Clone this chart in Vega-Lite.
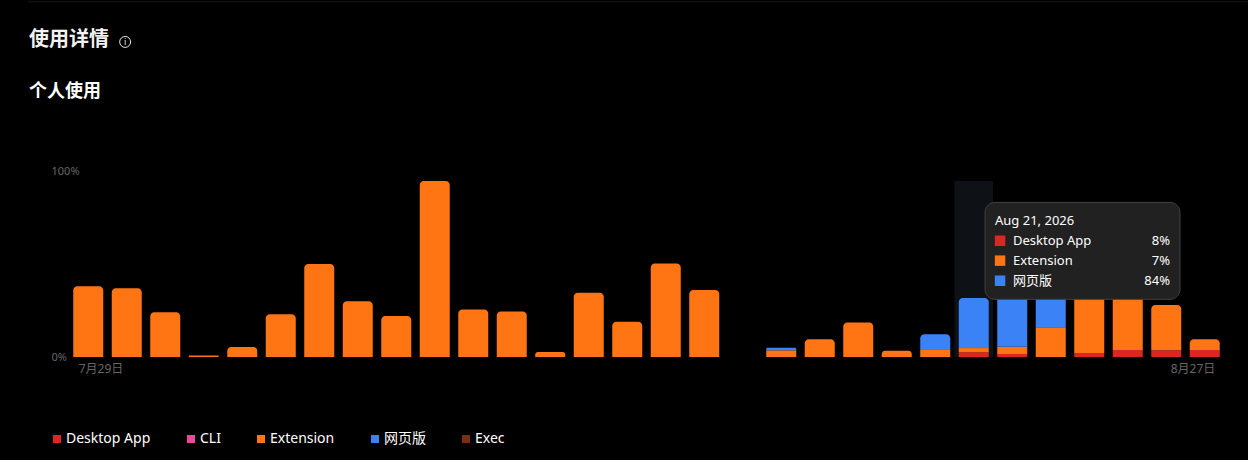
{
  "$schema": "https://vega.github.io/schema/vega-lite/v6.json",
  "autosize": "none",
  "width": 1155,
  "height": 186,
  "padding": {"left": 69, "top": 171, "right": 24, "bottom": 103},
  "background": "#000000",
  "datasets": {
    "usage": [
      {"date": "2026-07-29T00:00:00", "series": "Extension", "share": 38},
      {"date": "2026-07-30T00:00:00", "series": "Extension", "share": 37},
      {"date": "2026-07-31T00:00:00", "series": "Extension", "share": 24},
      {"date": "2026-08-01T00:00:00", "series": "Extension", "share": 0.8},
      {"date": "2026-08-02T00:00:00", "series": "Extension", "share": 5.4},
      {"date": "2026-08-03T00:00:00", "series": "Extension", "share": 23},
      {"date": "2026-08-04T00:00:00", "series": "Extension", "share": 50},
      {"date": "2026-08-05T00:00:00", "series": "Extension", "share": 30},
      {"date": "2026-08-06T00:00:00", "series": "Extension", "share": 22},
      {"date": "2026-08-07T00:00:00", "series": "Extension", "share": 94.6},
      {"date": "2026-08-08T00:00:00", "series": "Extension", "share": 25.5},
      {"date": "2026-08-09T00:00:00", "series": "Extension", "share": 24.5},
      {"date": "2026-08-10T00:00:00", "series": "Extension", "share": 2.7},
      {"date": "2026-08-11T00:00:00", "series": "Extension", "share": 34.5},
      {"date": "2026-08-12T00:00:00", "series": "Extension", "share": 19},
      {"date": "2026-08-13T00:00:00", "series": "Extension", "share": 50.3},
      {"date": "2026-08-14T00:00:00", "series": "Extension", "share": 36},
      {"date": "2026-08-16T00:00:00", "series": "Extension", "share": 3.6},
      {"date": "2026-08-16T00:00:00", "series": "网页版", "share": 1.4},
      {"date": "2026-08-17T00:00:00", "series": "Extension", "share": 9.5},
      {"date": "2026-08-18T00:00:00", "series": "Extension", "share": 18.6},
      {"date": "2026-08-19T00:00:00", "series": "Extension", "share": 3.3},
      {"date": "2026-08-20T00:00:00", "series": "Extension", "share": 4.2},
      {"date": "2026-08-20T00:00:00", "series": "网页版", "share": 8},
      {"date": "2026-08-21T00:00:00", "series": "Desktop App", "share": 2.6},
      {"date": "2026-08-21T00:00:00", "series": "Extension", "share": 2.2},
      {"date": "2026-08-21T00:00:00", "series": "网页版", "share": 26.9},
      {"date": "2026-08-22T00:00:00", "series": "Desktop App", "share": 1.6},
      {"date": "2026-08-22T00:00:00", "series": "Extension", "share": 3.9},
      {"date": "2026-08-22T00:00:00", "series": "网页版", "share": 28},
      {"date": "2026-08-23T00:00:00", "series": "Extension", "share": 16},
      {"date": "2026-08-23T00:00:00", "series": "网页版", "share": 20},
      {"date": "2026-08-24T00:00:00", "series": "Desktop App", "share": 2.2},
      {"date": "2026-08-24T00:00:00", "series": "Extension", "share": 33},
      {"date": "2026-08-25T00:00:00", "series": "Desktop App", "share": 3.8},
      {"date": "2026-08-25T00:00:00", "series": "Extension", "share": 31},
      {"date": "2026-08-26T00:00:00", "series": "Desktop App", "share": 3.6},
      {"date": "2026-08-26T00:00:00", "series": "Extension", "share": 24.4},
      {"date": "2026-08-27T00:00:00", "series": "Desktop App", "share": 3.8},
      {"date": "2026-08-27T00:00:00", "series": "Extension", "share": 5.7}
    ],
    "tip": [
      {"day": "Aug 21, 2026", "series": "Desktop App", "label": "8%"},
      {"day": "Aug 21, 2026", "series": "Extension", "label": "7%"},
      {"day": "Aug 21, 2026", "series": "网页版", "label": "84%"}
    ],
    "heading": [
      {"section": "page", "text": "使用详情"},
      {"section": "chart", "text": "个人使用"}
    ]
  },
  "layer": [
    {
      "data": {"values": [{"date": "2026-08-21T00:00:00"}]},
      "mark": {"type": "bar", "width": 38.5, "color": "#0e1217"},
      "encoding": {
        "x": {
          "field": "date",
          "type": "temporal",
          "scale": {"domain": ["2026-07-28T12:00:00", "2026-08-27T12:00:00"], "nice": false, "padding": 0},
          "axis": {
            "title": null,
            "values": [{"year": 2026, "month": 7, "date": 29}, {"year": 2026, "month": 8, "date": 27}],
            "format": "%-m月%-d日",
            "grid": false,
            "domain": false,
            "ticks": false,
            "tickSize": 0,
            "labelColor": "#666666",
            "labelFontSize": 12,
            "labelPadding": 6,
            "labelFlush": 25,
            "labelFlushOffset": 10
          }
        },
        "y": {
          "datum": 94.6,
          "type": "quantitative",
          "scale": {"domain": [0, 100], "nice": false},
          "axis": {
            "title": null,
            "values": [0, 100],
            "labelExpr": "datum.value + '%'",
            "grid": false,
            "domain": false,
            "ticks": false,
            "tickSize": 0,
            "labelColor": "#666666",
            "labelFontSize": 11,
            "labelAlign": "left",
            "labelPadding": 18
          }
        },
        "y2": {"datum": 0}
      }
    },
    {
      "data": {"name": "usage"},
      "transform": [
        {"stack": "share", "groupby": ["date"], "sort": [{"field": "series", "order": "ascending"}], "as": ["y0", "y1"]},
        {"joinaggregate": [{"op": "max", "field": "y1", "as": "top"}], "groupby": ["date"]},
        {"filter": "datum.y1 < datum.top"}
      ],
      "mark": {"type": "bar", "width": 30},
      "encoding": {
        "x": {"field": "date", "type": "temporal", "scale": {"domain": ["2026-07-28T12:00:00", "2026-08-27T12:00:00"], "nice": false, "padding": 0}},
        "y": {"field": "y0", "type": "quantitative", "scale": {"domain": [0, 100], "nice": false}},
        "y2": {"field": "y1"},
        "color": {
          "field": "series",
          "type": "nominal",
          "scale": {
            "domain": ["Desktop App", "CLI", "Extension", "网页版", "Exec"],
            "range": ["#dc2626", "#ec4899", "#ff7413", "#3b82f6", "#7c2d12"]
          },
          "legend": {
            "orient": "none",
            "legendX": -19,
            "legendY": 261,
            "direction": "horizontal",
            "columns": 5,
            "title": null,
            "symbolType": "square",
            "symbolSize": 64,
            "symbolStrokeWidth": 0,
            "labelColor": "#ffffff",
            "labelFontSize": 14,
            "labelOffset": 2,
            "columnPadding": 33
          }
        }
      }
    },
    {
      "data": {"name": "usage"},
      "transform": [
        {"stack": "share", "groupby": ["date"], "sort": [{"field": "series", "order": "ascending"}], "as": ["y0", "y1"]},
        {"joinaggregate": [{"op": "max", "field": "y1", "as": "top"}], "groupby": ["date"]},
        {"filter": "datum.y1 == datum.top"}
      ],
      "mark": {"type": "bar", "width": 30, "cornerRadiusTopLeft": 4, "cornerRadiusTopRight": 4},
      "encoding": {
        "x": {"field": "date", "type": "temporal", "scale": {"domain": ["2026-07-28T12:00:00", "2026-08-27T12:00:00"], "nice": false, "padding": 0}},
        "y": {"field": "y0", "type": "quantitative", "scale": {"domain": [0, 100], "nice": false}},
        "y2": {"field": "y1"},
        "color": {
          "field": "series",
          "type": "nominal",
          "scale": {
            "domain": ["Desktop App", "CLI", "Extension", "网页版", "Exec"],
            "range": ["#dc2626", "#ec4899", "#ff7413", "#3b82f6", "#7c2d12"]
          }
        }
      }
    },
    {
      "data": {"values": [{}]},
      "mark": {"type": "rule", "color": "#151515", "strokeWidth": 1},
      "encoding": {
        "x": {"datum": {"year": 2026, "month": 7, "date": 27, "hours": 10, "minutes": 30}, "type": "temporal", "scale": {"domain": ["2026-07-28T12:00:00", "2026-08-27T12:00:00"], "nice": false, "padding": 0}},
        "x2": {"datum": {"year": 2026, "month": 8, "date": 28, "hours": 2, "minutes": 50}},
        "y": {"datum": 191, "type": "quantitative", "scale": {"domain": [0, 100], "nice": false}}
      }
    },
    {
      "data": {"name": "heading"},
      "transform": [{"filter": "datum.section == 'page'"}],
      "mark": {"type": "text", "align": "left", "baseline": "middle", "fontSize": 20, "fontWeight": 700, "color": "#f2f2f2"},
      "encoding": {
        "x": {"datum": {"year": 2026, "month": 7, "date": 27, "hours": 11, "minutes": 4}, "type": "temporal", "scale": {"domain": ["2026-07-28T12:00:00", "2026-08-27T12:00:00"], "nice": false, "padding": 0}},
        "y": {"datum": 170.4, "type": "quantitative", "scale": {"domain": [0, 100], "nice": false}},
        "text": {"field": "text"}
      }
    },
    {
      "data": {"name": "heading"},
      "transform": [{"filter": "datum.section == 'chart'"}],
      "mark": {"type": "text", "align": "left", "baseline": "middle", "fontSize": 18, "fontWeight": 700, "color": "#ffffff"},
      "encoding": {
        "x": {"datum": {"year": 2026, "month": 7, "date": 27, "hours": 11, "minutes": 4}, "type": "temporal", "scale": {"domain": ["2026-07-28T12:00:00", "2026-08-27T12:00:00"], "nice": false, "padding": 0}},
        "y": {"datum": 142.5, "type": "quantitative", "scale": {"domain": [0, 100], "nice": false}},
        "text": {"field": "text"}
      }
    },
    {
      "data": {"values": [{}]},
      "mark": {"type": "point", "shape": "circle", "size": 120, "filled": false, "color": "#e6e6e6", "strokeWidth": 1, "opacity": 1},
      "encoding": {
        "x": {"datum": {"year": 2026, "month": 7, "date": 29, "hours": 23}, "type": "temporal", "scale": {"domain": ["2026-07-28T12:00:00", "2026-08-27T12:00:00"], "nice": false, "padding": 0}},
        "y": {"datum": 169.4, "type": "quantitative", "scale": {"domain": [0, 100], "nice": false}}
      }
    },
    {
      "data": {"values": [{}]},
      "mark": {"type": "text", "text": "i", "fontSize": 9, "color": "#e6e6e6", "align": "center", "baseline": "middle"},
      "encoding": {
        "x": {"datum": {"year": 2026, "month": 7, "date": 29, "hours": 23}, "type": "temporal", "scale": {"domain": ["2026-07-28T12:00:00", "2026-08-27T12:00:00"], "nice": false, "padding": 0}},
        "y": {"datum": 169.4, "type": "quantitative", "scale": {"domain": [0, 100], "nice": false}}
      }
    },
    {
      "data": {"values": [{}]},
      "mark": {"type": "rect", "color": "#212121", "stroke": "#404040", "strokeWidth": 1, "cornerRadius": 10},
      "encoding": {
        "x": {"datum": {"year": 2026, "month": 8, "date": 21, "hours": 7, "minutes": 3}, "type": "temporal", "scale": {"domain": ["2026-07-28T12:00:00", "2026-08-27T12:00:00"], "nice": false, "padding": 0}},
        "x2": {"datum": {"year": 2026, "month": 8, "date": 26, "hours": 8, "minutes": 35}},
        "y": {"datum": 83.1, "type": "quantitative", "scale": {"domain": [0, 100], "nice": false}},
        "y2": {"datum": 31}
      }
    },
    {
      "data": {"name": "tip"},
      "transform": [{"filter": "datum.series == 'Desktop App'"}],
      "mark": {"type": "text", "align": "left", "baseline": "middle", "fontSize": 13, "color": "#ffffff"},
      "encoding": {
        "x": {"datum": {"year": 2026, "month": 8, "date": 21, "hours": 13, "minutes": 16}, "type": "temporal", "scale": {"domain": ["2026-07-28T12:00:00", "2026-08-27T12:00:00"], "nice": false, "padding": 0}},
        "y": {"datum": 73.3, "type": "quantitative", "scale": {"domain": [0, 100], "nice": false}},
        "text": {"field": "day"}
      }
    },
    {
      "data": {"name": "tip"},
      "transform": [{"filter": "datum.series == 'Desktop App'"}],
      "layer": [
        {
          "mark": {"type": "point", "shape": "square", "filled": true, "size": 110, "opacity": 1},
          "encoding": {
            "x": {"datum": {"year": 2026, "month": 8, "date": 21, "hours": 16, "minutes": 24}, "type": "temporal", "scale": {"domain": ["2026-07-28T12:00:00", "2026-08-27T12:00:00"], "nice": false, "padding": 0}},
            "color": {"field": "series", "type": "nominal", "scale": {"domain": ["Desktop App", "CLI", "Extension", "网页版", "Exec"], "range": ["#dc2626", "#ec4899", "#ff7413", "#3b82f6", "#7c2d12"]}}
          }
        },
        {
          "mark": {"type": "text", "align": "left", "baseline": "middle", "fontSize": 13, "color": "#ffffff"},
          "encoding": {
            "x": {"datum": {"year": 2026, "month": 8, "date": 22, "hours": 0, "minutes": 30}, "type": "temporal", "scale": {"domain": ["2026-07-28T12:00:00", "2026-08-27T12:00:00"], "nice": false, "padding": 0}},
            "text": {"field": "series"}
          }
        },
        {
          "mark": {"type": "text", "align": "right", "baseline": "middle", "fontSize": 13, "color": "#ffffff"},
          "encoding": {
            "x": {"datum": {"year": 2026, "month": 8, "date": 26, "hours": 2, "minutes": 21}, "type": "temporal", "scale": {"domain": ["2026-07-28T12:00:00", "2026-08-27T12:00:00"], "nice": false, "padding": 0}},
            "text": {"field": "label"}
          }
        }
      ],
      "encoding": {
        "y": {"datum": 62.5, "type": "quantitative", "scale": {"domain": [0, 100], "nice": false}}
      }
    },
    {
      "data": {"name": "tip"},
      "transform": [{"filter": "datum.series == 'Extension'"}],
      "layer": [
        {
          "mark": {"type": "point", "shape": "square", "filled": true, "size": 110, "opacity": 1},
          "encoding": {
            "x": {"datum": {"year": 2026, "month": 8, "date": 21, "hours": 16, "minutes": 24}, "type": "temporal", "scale": {"domain": ["2026-07-28T12:00:00", "2026-08-27T12:00:00"], "nice": false, "padding": 0}},
            "color": {"field": "series", "type": "nominal", "scale": {"domain": ["Desktop App", "CLI", "Extension", "网页版", "Exec"], "range": ["#dc2626", "#ec4899", "#ff7413", "#3b82f6", "#7c2d12"]}}
          }
        },
        {
          "mark": {"type": "text", "align": "left", "baseline": "middle", "fontSize": 13, "color": "#ffffff"},
          "encoding": {
            "x": {"datum": {"year": 2026, "month": 8, "date": 22, "hours": 0, "minutes": 30}, "type": "temporal", "scale": {"domain": ["2026-07-28T12:00:00", "2026-08-27T12:00:00"], "nice": false, "padding": 0}},
            "text": {"field": "series"}
          }
        },
        {
          "mark": {"type": "text", "align": "right", "baseline": "middle", "fontSize": 13, "color": "#ffffff"},
          "encoding": {
            "x": {"datum": {"year": 2026, "month": 8, "date": 26, "hours": 2, "minutes": 21}, "type": "temporal", "scale": {"domain": ["2026-07-28T12:00:00", "2026-08-27T12:00:00"], "nice": false, "padding": 0}},
            "text": {"field": "label"}
          }
        }
      ],
      "encoding": {
        "y": {"datum": 51.8, "type": "quantitative", "scale": {"domain": [0, 100], "nice": false}}
      }
    },
    {
      "data": {"name": "tip"},
      "transform": [{"filter": "datum.series == '网页版'"}],
      "layer": [
        {
          "mark": {"type": "point", "shape": "square", "filled": true, "size": 110, "opacity": 1},
          "encoding": {
            "x": {"datum": {"year": 2026, "month": 8, "date": 21, "hours": 16, "minutes": 24}, "type": "temporal", "scale": {"domain": ["2026-07-28T12:00:00", "2026-08-27T12:00:00"], "nice": false, "padding": 0}},
            "color": {"field": "series", "type": "nominal", "scale": {"domain": ["Desktop App", "CLI", "Extension", "网页版", "Exec"], "range": ["#dc2626", "#ec4899", "#ff7413", "#3b82f6", "#7c2d12"]}}
          }
        },
        {
          "mark": {"type": "text", "align": "left", "baseline": "middle", "fontSize": 13, "color": "#ffffff"},
          "encoding": {
            "x": {"datum": {"year": 2026, "month": 8, "date": 22, "hours": 0, "minutes": 30}, "type": "temporal", "scale": {"domain": ["2026-07-28T12:00:00", "2026-08-27T12:00:00"], "nice": false, "padding": 0}},
            "text": {"field": "series"}
          }
        },
        {
          "mark": {"type": "text", "align": "right", "baseline": "middle", "fontSize": 13, "color": "#ffffff"},
          "encoding": {
            "x": {"datum": {"year": 2026, "month": 8, "date": 26, "hours": 2, "minutes": 21}, "type": "temporal", "scale": {"domain": ["2026-07-28T12:00:00", "2026-08-27T12:00:00"], "nice": false, "padding": 0}},
            "text": {"field": "label"}
          }
        }
      ],
      "encoding": {
        "y": {"datum": 41, "type": "quantitative", "scale": {"domain": [0, 100], "nice": false}}
      }
    }
  ],
  "config": {
    "view": {"stroke": null},
    "font": "Noto Sans, Noto Sans CJK SC, sans-serif",
    "axis": {"grid": false, "domain": false, "ticks": false, "tickSize": 0, "titleFontSize": 0},
    "scale": {"continuousPadding": 0}
  }
}
